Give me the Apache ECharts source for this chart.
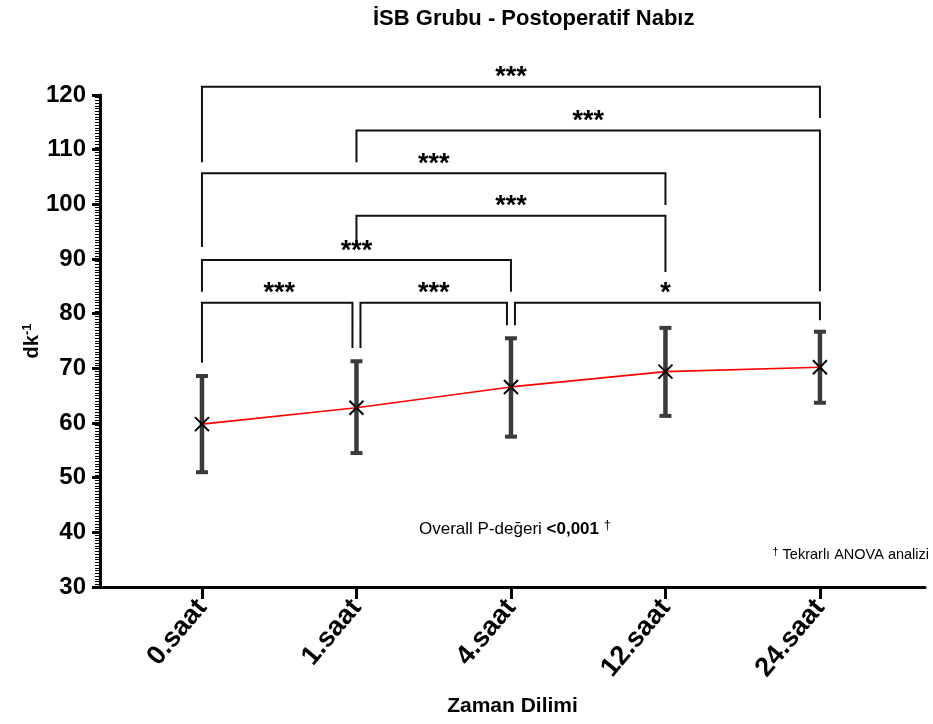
<!DOCTYPE html>
<html>
<head>
<meta charset="utf-8">
<title>İSB Grubu - Postoperatif Nabız</title>
<script src="https://cdn.jsdelivr.net/npm/echarts@6/dist/echarts.min.js"></script>
<style>
  html, body { margin: 0; padding: 0; background: #fff; }
  #chart { width: 933px; height: 724px; }
</style>
</head>
<body>
<div id="chart"></div>
<script>
  // zaman noktaları
  var categories = ['0.saat', '1.saat', '4.saat', '12.saat', '24.saat'];
  // ortalama nabız ve hata çubuğu alt/üst uçları
  var means = [59.8, 62.8, 66.6, 69.4, 70.2];
  var lows = [51.0, 54.5, 57.5, 61.3, 63.7];
  var highs = [68.6, 71.3, 75.5, 77.4, 76.7];
  // anlamlılık köşeli parantezleri: [başlangıç, bitiş, üst çizgi, sol bacak ucu, sağ bacak ucu]
  var bracketPairs = [[0, 4], [1, 4], [0, 3], [1, 3], [0, 2], [0, 1], [1, 2], [2, 4]];
  var bracketTops = [121.5, 113.5, 105.7, 97.9, 89.8, 82.0, 82.0, 82.0];
  var bracketLeftEnds = [107.7, 107.7, 92.2, 92.2, 84.0, 71.0, 73.7, 77.9];
  var bracketRightEnds = [115.8, 84.1, 99.9, 87.6, 84.0, 73.7, 77.9, 78.8];
  var bracketLabels = ['***', '***', '***', '***', '***', '***', '***', '*'];

  var FONT = 'Liberation Sans, Arial, sans-serif';
  var catIdx = categories.map(function (c, i) { return i; });

  var bracketData = bracketPairs.map(function (p, i) {
    return [p[0], p[1], bracketTops[i], bracketLeftEnds[i], bracketRightEnds[i]];
  });

  // aynı seviyede komşu parantezler birbirine değmesin diye küçük kaydırma
  function nudge(i, side) {
    var p = bracketPairs[i];
    for (var j = 0; j < bracketPairs.length; j++) {
      if (j === i || bracketTops[j] !== bracketTops[i]) continue;
      if (side === 'left' && bracketPairs[j][1] === p[0]) return 4;
      if (side === 'right' && bracketPairs[j][0] === p[1]) return -4;
    }
    return 0;
  }

  function renderBracket(params, api) {
    var i = params.dataIndex;
    var a = api.coord([api.value(0), api.value(2)]);
    var b = api.coord([api.value(1), api.value(2)]);
    var la = api.coord([api.value(0), api.value(3)]);
    var rb = api.coord([api.value(1), api.value(4)]);
    var xl = a[0] + nudge(i, 'left');
    var xr = b[0] + nudge(i, 'right');
    return {
      type: 'group',
      children: [{
        type: 'polyline',
        shape: { points: [[xl, la[1]], [xl, a[1]], [xr, b[1]], [xr, rb[1]]] },
        style: { stroke: '#111', lineWidth: 2, fill: null }
      }, {
        type: 'text',
        x: (a[0] + b[0]) / 2,
        y: a[1] - 9,
        style: {
          text: bracketLabels[i],
          fill: '#000',
          font: 'bold 27px ' + FONT,
          align: 'center',
          verticalAlign: 'middle'
        }
      }]
    };
  }

  function renderErr(params, api) {
    var x = api.value(0);
    var lo = api.coord([x, api.value(1)]);
    var hi = api.coord([x, api.value(2)]);
    var col = '#3b3b3b', w = 6;
    return {
      type: 'group',
      children: [
        { type: 'line', shape: { x1: lo[0], y1: lo[1], x2: hi[0], y2: hi[1] }, style: { stroke: col, lineWidth: 4.5 } },
        { type: 'line', shape: { x1: lo[0] - w, y1: lo[1], x2: lo[0] + w, y2: lo[1] }, style: { stroke: col, lineWidth: 4 } },
        { type: 'line', shape: { x1: hi[0] - w, y1: hi[1], x2: hi[0] + w, y2: hi[1] }, style: { stroke: col, lineWidth: 4 } }
      ]
    };
  }

  function renderCross(params, api) {
    var p = api.coord([api.value(0), api.value(1)]);
    var s = 7;
    return {
      type: 'group',
      children: [
        { type: 'line', shape: { x1: p[0] - s, y1: p[1] - s, x2: p[0] + s, y2: p[1] + s }, style: { stroke: '#000', lineWidth: 2 } },
        { type: 'line', shape: { x1: p[0] - s, y1: p[1] + s, x2: p[0] + s, y2: p[1] - s }, style: { stroke: '#000', lineWidth: 2 } }
      ]
    };
  }

  var chart = echarts.init(document.getElementById('chart'));
  var option = {
    backgroundColor: '#fff',
    animation: false,
    title: {
      text: 'İSB Grubu - Postoperatif Nabız',
      left: 368,
      top: 3,
      textStyle: { fontFamily: FONT, fontSize: 22, fontWeight: 'bold', color: '#000' }
    },
    grid: { left: 100, right: 8, top: 95, bottom: 137 },
    xAxis: {
      type: 'value',
      min: -0.66,
      max: 4.68,
      axisLine: { onZero: false, lineStyle: { color: '#000', width: 3 } },
      axisTick: { show: true, customValues: catIdx, length: 12, lineStyle: { color: '#000', width: 3 } },
      axisLabel: {
        customValues: catIdx,
        formatter: function (v) { return categories[Math.round(v)]; },
        rotate: 50,
        margin: 16,
        color: '#000',
        fontFamily: FONT,
        fontSize: 27,
        fontWeight: 'bold'
      },
      splitLine: { show: false },
      name: 'Zaman Dilimi',
      nameLocation: 'middle',
      nameGap: 109,
      nameMoveOverlap: false,
      nameTextStyle: { fontFamily: FONT, fontSize: 21, fontWeight: 'bold', color: '#000' }
    },
    yAxis: {
      type: 'value',
      min: 30,
      max: 120,
      interval: 10,
      axisLine: { show: true, onZero: false, lineStyle: { color: '#000', width: 3 } },
      axisTick: { show: true, length: 8, lineStyle: { color: '#000', width: 3 } },
      minorTick: { show: true, splitNumber: 20, length: 5, lineStyle: { color: '#000', width: 1 } },
      splitLine: { show: false },
      axisLabel: { color: '#000', fontFamily: FONT, fontSize: 24, fontWeight: 'bold', margin: 14 },
      name: 'dk{s|-1}',
      nameLocation: 'middle',
      nameGap: 57,
      nameRotate: 90,
      nameMoveOverlap: false,
      nameTextStyle: {
        fontFamily: FONT, fontSize: 20, fontWeight: 'bold', color: '#000',
        rich: {
          s: { fontFamily: FONT, fontSize: 13, fontWeight: 'bold', color: '#000', padding: [0, 0, 9, 0] }
        }
      }
    },
    graphic: [{
      type: 'text',
      left: 419,
      top: 519,
      style: {
        text: 'Overall P-değeri {b|<0,001} {s|†}',
        font: '17px ' + FONT,
        fill: '#000',
        rich: {
          b: { fontFamily: FONT, fontSize: 17, fontWeight: 'bold', fill: '#000' },
          s: { fontFamily: FONT, fontSize: 13, fill: '#000', padding: [0, 0, 8, 0] }
        }
      }
    }, {
      type: 'text',
      right: 4,
      top: 546,
      style: {
        text: '{s|†} Tekrarlı ANOVA analizi',
        font: '14.5px ' + FONT,
        fill: '#000',
        rich: {
          s: { fontFamily: FONT, fontSize: 11, fill: '#000', padding: [0, 0, 7, 0] }
        }
      }
    }],
    series: [{
      name: 'hata',
      type: 'custom',
      renderItem: renderErr,
      encode: { x: 0, y: [1, 2] },
      data: catIdx.map(function (i) { return [i, lows[i], highs[i]]; }),
      z: 1
    }, {
      name: 'ortalama',
      type: 'line',
      data: catIdx.map(function (i) { return [i, means[i]]; }),
      symbol: 'none',
      lineStyle: { color: '#ff0000', width: 1.6 },
      z: 2
    }, {
      name: 'işaret',
      type: 'custom',
      renderItem: renderCross,
      encode: { x: 0, y: 1 },
      data: catIdx.map(function (i) { return [i, means[i]]; }),
      z: 3
    }, {
      name: 'parantez',
      type: 'custom',
      renderItem: renderBracket,
      encode: { x: [0, 1], y: [2, 3, 4] },
      data: bracketData,
      clip: false,
      z: 4
    }]
  };
  chart.setOption(option);
</script>
</body>
</html>
